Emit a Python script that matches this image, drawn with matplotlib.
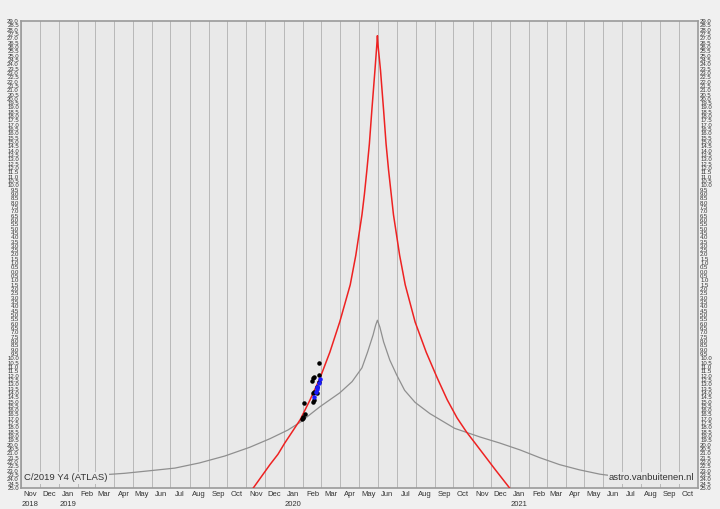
import matplotlib
matplotlib.use("Agg")
import matplotlib.pyplot as plt
import matplotlib.dates as mdates
import matplotlib.ticker as mticker
import matplotlib.transforms as mtransforms
from datetime import date, timedelta

# Predicted light curve (red)
red_dates = ["2019-11-12", "2019-11-26", "2019-12-09", "2019-12-22", "2020-01-02",
             "2020-01-15", "2020-01-27", "2020-02-12", "2020-02-28", "2020-03-15",
             "2020-03-31", "2020-04-17", "2020-04-26", "2020-05-06", "2020-05-10",
             "2020-05-14", "2020-05-18", "2020-05-22", "2020-05-27", "2020-05-30",
             "2020-05-31", "2020-06-01", "2020-06-05", "2020-06-10", "2020-06-14",
             "2020-06-18", "2020-06-26", "2020-07-06", "2020-07-15", "2020-07-31",
             "2020-08-18", "2020-09-05", "2020-09-21", "2020-10-07", "2020-10-22",
             "2020-11-05", "2020-11-21", "2020-12-08", "2020-12-31"]
red_mag = [25.0, 23.6, 22.3, 21.1, 19.8,
           18.4, 17.1, 14.8, 12.3, 9.3,
           5.8, 1.5, -1.9, -6.6, -9.0,
           -11.8, -14.8, -18.7, -23.3, -26.2,
           -27.3, -26.2, -23.3, -18.7, -14.8,
           -11.8, -6.6, -1.9, 1.5, 5.8,
           9.3, 12.3, 14.8, 16.9, 18.5,
           19.8, 21.3, 22.9, 25.0]

# Standard light curve (grey)
grey_dates = ["2018-12-10", "2019-01-27", "2019-03-09", "2019-04-18", "2019-05-29",
              "2019-07-08", "2019-08-17", "2019-09-27", "2019-11-06", "2019-12-09",
              "2020-01-07", "2020-01-27", "2020-02-28", "2020-03-31", "2020-04-20",
              "2020-05-06", "2020-05-15", "2020-05-24", "2020-05-28", "2020-05-31",
              "2020-06-04", "2020-06-10", "2020-06-20", "2020-07-01", "2020-07-14",
              "2020-07-31", "2020-08-24", "2020-10-03", "2020-11-13", "2020-12-15",
              "2021-01-17", "2021-02-18", "2021-03-22", "2021-04-23", "2021-05-26",
              "2021-06-27", "2021-07-29", "2021-08-31", "2021-10-03"]
grey_mag = [23.8, 23.6, 23.5, 23.3, 23.0,
            22.7, 22.1, 21.3, 20.3, 19.3,
            18.3, 17.4, 15.6, 14.0, 12.7,
            11.1, 9.3, 7.3, 6.2, 5.6,
            6.4, 8.1, 10.2, 11.9, 13.7,
            15.1, 16.4, 18.1, 19.1, 19.8,
            20.6, 21.5, 22.3, 22.9, 23.4,
            23.7, 24.0, 24.1, 24.2]

# Observations
obs_black_dates = ["2020-02-27", "2020-02-19", "2020-02-16", "2020-02-15", "2020-02-27",
                   "2020-02-26", "2020-02-23", "2020-02-19", "2020-02-16", "2020-02-23",
                   "2020-02-18", "2020-02-16", "2020-02-02", "2020-02-03", "2020-01-31",
                   "2020-01-30", "2020-01-31"]
obs_black_mag = [10.6, 12.2, 12.3, 12.6, 11.9, 12.7, 13.3, 13.9, 14.0, 14.0,
                 14.8, 15.0, 15.2, 16.4, 16.8, 17.0, 16.9]
obs_blue_dates = ["2020-02-26", "2020-02-24", "2020-02-23", "2020-02-21", "2020-02-28",
                  "2020-02-19"]
obs_blue_mag = [12.85, 13.3, 13.5, 13.9, 12.4, 14.5]

month_names = ["Jan", "Feb", "Mar", "Apr", "May", "Jun",
               "Jul", "Aug", "Sep", "Oct", "Nov", "Dec"]
year_marks = [(2018, 11), (2019, 1), (2020, 1), (2021, 1)]


def to_dates(lst):
    return [date.fromisoformat(s) for s in lst]


plt.rcParams['font.family'] = ['Liberation Sans', 'DejaVu Sans']

fig = plt.figure(figsize=(7.2, 5.09), dpi=100, facecolor="#f0f0f0")
ax = fig.add_axes([21 / 720, 21 / 509, 677 / 720, 467 / 509])
ax.set_facecolor("#e9e9e9")

ax.plot(to_dates(grey_dates), grey_mag, color="#8f8f8f", lw=0.9, zorder=3)
ax.plot(to_dates(red_dates), red_mag, color="#ee2222", lw=1.1, zorder=4)
ax.scatter(to_dates(obs_black_dates), obs_black_mag, s=5, color="black", zorder=5)
ax.scatter(to_dates(obs_blue_dates), obs_blue_mag, s=5, color="#1a1aff", zorder=6)

ax.set_xlim(date(2018, 11, 1), date(2021, 11, 1))
ax.set_ylim(25, -29)

# y axis: labels every 0.5, grid every 1.0
ax.yaxis.set_major_locator(mticker.MultipleLocator(0.5))
ax.yaxis.set_major_formatter(mticker.FuncFormatter(lambda v, p: "%.1f" % abs(v)))
ax.yaxis.set_minor_locator(mticker.MultipleLocator(1.0))
ax.tick_params(axis="y", which="major", length=0, labelsize=4.3, pad=1.5,
               labelcolor="#333333", left=True, right=True, labelleft=True, labelright=True)
ax.tick_params(axis="y", which="minor", length=0)
ax.grid(True, axis="y", which="minor", color="#b0b0b0", lw=0.6)

# x axis: gridlines at month starts, labels centred in month
ax.xaxis.set_major_locator(mdates.MonthLocator())
ax.xaxis.set_major_formatter(mticker.NullFormatter())
ax.xaxis.set_minor_locator(mdates.MonthLocator(bymonthday=16))
ax.xaxis.set_minor_formatter(mticker.FuncFormatter(
    lambda v, p: month_names[mdates.num2date(v).month - 1]))
ax.tick_params(axis="x", which="both", length=0, labelsize=5.5, pad=2, labelcolor="#333333")
ax.grid(True, axis="x", which="major", color="#b0b0b0", lw=0.6)

for s in ax.spines.values():
    s.set_color("#9a9a9a")
    s.set_linewidth(1.2)

trans = mtransforms.blended_transform_factory(ax.transData, fig.transFigure)
for yr, mo in year_marks:
    ax.text(date(yr, mo, 1) + timedelta(days=15), 1 / 509, str(yr), transform=trans,
            ha="center", va="bottom", fontsize=5.5, color="#333333")

box = dict(facecolor="#e9e9e9", edgecolor="none", pad=1.0)
ax.text(0.005, 0.012, "C/2019 Y4 (ATLAS)", transform=ax.transAxes, fontsize=6.8,
        color="#333333", ha="left", va="bottom", bbox=box, zorder=7)
ax.text(0.995, 0.012, "astro.vanbuitenen.nl", transform=ax.transAxes, fontsize=6.8,
        color="#333333", ha="right", va="bottom", bbox=box, zorder=7)

fig.savefig("out.png", dpi=100, facecolor=fig.get_facecolor())
